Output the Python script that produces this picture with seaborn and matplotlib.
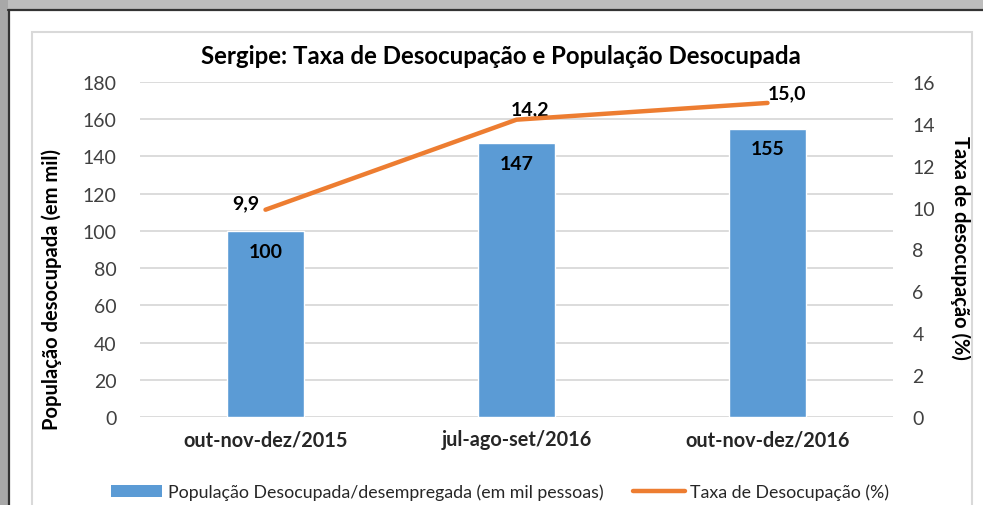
import matplotlib
matplotlib.use("Agg")
import matplotlib.pyplot as plt
import matplotlib.patches as mpatches
from matplotlib.lines import Line2D
import seaborn as sns
import pandas as pd

categories = ["out-nov-dez/2015", "jul-ago-set/2016", "out-nov-dez/2016"]
populacao = [100, 147, 155]
taxa = [9.9, 14.2, 15.0]
taxa_labels = ["9,9", "14,2", "15,0"]
y_left_ticks = [0, 20, 40, 60, 80, 100, 120, 140, 160, 180]
y_right_ticks = [0, 2, 4, 6, 8, 10, 12, 14, 16]

title = "Sergipe: Taxa de Desocupação e População Desocupada"
ylabel_left = "População desocupada (em mil)"
ylabel_right = "Taxa de desocupação (%)"
legend_bar = "População Desocupada/desempregada (em mil pessoas)"
legend_line = "Taxa de Desocupação (%)"

BLUE = "#5B9BD5"
ORANGE = "#ED7D31"
GRID = "#D9D9D9"
TXT = "#000000"
TICK = "#404040"

sns.set_theme(style="white")
plt.rcParams["font.family"] = ["Lato", "DejaVu Sans"]

fig = plt.figure(figsize=(9.83, 5.06), dpi=100)
W, H = 983, 506

def fx(x):
    return x / W

def fy(y):
    return 1 - y / H

# background frame decorations
fig.patches.append(mpatches.Rectangle((0, fy(10)), 1, 10 / H, transform=fig.transFigure,
                                      facecolor="#BDBDBD", edgecolor="none", zorder=0))
fig.patches.append(mpatches.Rectangle((0, 0), fx(8), 1, transform=fig.transFigure,
                                      facecolor="#A8A8A8", edgecolor="none", zorder=0))
fig.lines.append(Line2D([fx(8), 1], [fy(10.5), fy(10.5)], transform=fig.transFigure,
                        color="#333333", lw=1.6, zorder=1))
fig.lines.append(Line2D([fx(8.5), fx(8.5)], [0, fy(10.5)], transform=fig.transFigure,
                        color="#333333", lw=1.6, zorder=1))
fig.patches.append(mpatches.Rectangle((fx(32), -0.05), fx(972) - fx(32), fy(33) + 0.05,
                                      transform=fig.transFigure, facecolor="none",
                                      edgecolor="#D9D9D9", lw=1.5, zorder=1))

ax = fig.add_axes([fx(140), fy(418), fx(893) - fx(140), fy(83) - fy(418)])
ax.set_facecolor("none")

df = pd.DataFrame({"cat": categories, "pop": populacao})
sns.barplot(data=df, x="cat", y="pop", color=BLUE, saturation=1, width=0.31, ax=ax, zorder=3)
ax.set_ylim(0, 180)
ax.set_yticks(y_left_ticks)
ax.set_xlim(-0.5, 2.5)
ax.yaxis.grid(True, color=GRID, lw=1.3, zorder=0)
ax.set_axisbelow(True)
for s in ax.spines.values():
    s.set_visible(False)
ax.tick_params(axis="y", length=0, labelsize=14, labelcolor=TICK, pad=17)
ax.tick_params(axis="x", length=0, labelsize=14.3, pad=9)
for lab in ax.get_xticklabels():
    lab.set_fontweight("bold")
ax.set_xlabel("")
ax.set_ylabel(ylabel_left, fontsize=14.5, fontweight="bold", color=TXT, va="center")
ax.yaxis.set_label_coords(-0.117, 0.385)

for i, v in enumerate(populacao):
    ax.annotate(str(v), (i, v), xytext=(0, -14.5), textcoords="offset points",
                ha="center", va="center", fontsize=14, fontweight="bold", color=TXT, zorder=5)

ax2 = ax.twinx()
sns.lineplot(x=[0, 1, 2], y=taxa, color=ORANGE, lw=3.2, ax=ax2, zorder=4)
ax2.set_ylim(0, 16)
ax2.set_yticks(y_right_ticks)
for s in ax2.spines.values():
    s.set_visible(False)
ax2.tick_params(axis="y", length=0, labelsize=14, labelcolor=TICK, pad=14)
ax2.set_ylabel(ylabel_right, fontsize=14.5, fontweight="bold", color=TXT, rotation=270,
               va="center")
ax2.yaxis.set_label_coords(1.09, 0.507)

offsets = [(-14, 5), (10, 8), (14, 7)]
for i, (v, lab) in enumerate(zip(taxa, taxa_labels)):
    ax2.annotate(lab, (i, v), xytext=offsets[i], textcoords="offset points",
                 ha="center", va="center", fontsize=14, fontweight="bold", color=TXT)

fig.text(fx(501), fy(57), title, ha="center", va="center", fontsize=17.3,
         fontweight="bold", color=TXT)

handles = [mpatches.Patch(facecolor=BLUE, edgecolor="none", label=legend_bar),
           Line2D([0], [0], color=ORANGE, lw=3.2, label=legend_line)]
fig.legend(handles=handles, loc="center", bbox_to_anchor=(fx(500), fy(493)), ncol=2,
           frameon=False, fontsize=12.8, handlelength=2.9, handleheight=0.7,
           columnspacing=1.7, handletextpad=0.3)

fig.savefig("out.png", dpi=100)
